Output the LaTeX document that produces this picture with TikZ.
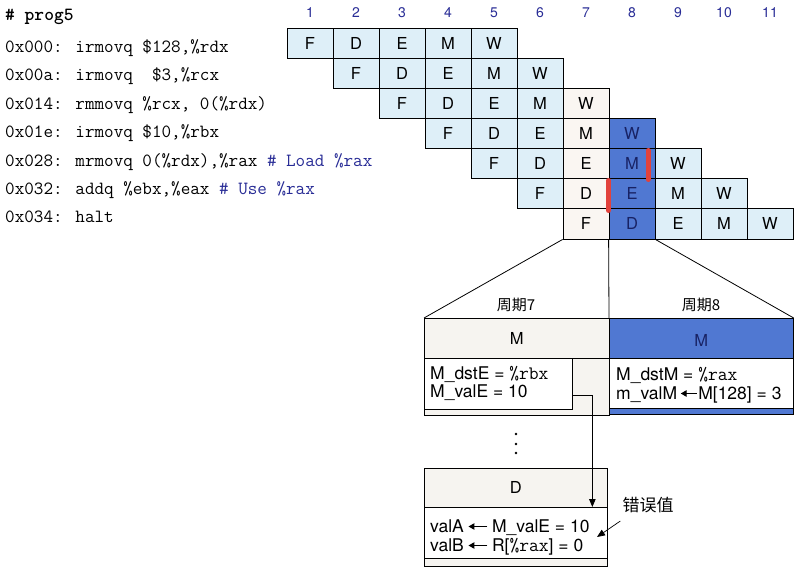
\documentclass[tikz,border=0pt]{standalone}
\usepackage{fontspec}
\setsansfont{TeX Gyre Heros}
\newfontfamily\cjk{Noto Sans CJK SC}
\usetikzlibrary{arrows.meta}
\definecolor{cellblue}{RGB}{222,239,248}
\definecolor{cellwhite}{RGB}{250,246,242}
\definecolor{celldark}{RGB}{80,120,210}
\definecolor{hdrgray}{RGB}{246,244,240}
\definecolor{barred}{RGB}{226,66,60}
\definecolor{numblue}{RGB}{40,44,150}
\definecolor{navy}{RGB}{24,34,100}
\tikzset{
  cell/.style={draw, line width=0.8pt, minimum width=46pt, minimum height=30.15pt, inner sep=0pt,
    font=\sffamily\fontsize{16.5}{16.5}\selectfont},
  colnum/.style={font=\sffamily\fontsize{14}{14}\selectfont, text=numblue, inner sep=0pt},
  code/.style={anchor=base west, inner sep=0pt, font=\ttfamily\fontsize{18.6}{20}\selectfont},
  box/.style={draw, line width=0.7pt, anchor=north west, inner sep=0pt},
  boxtxt/.style={anchor=base west, inner sep=0pt, font=\sffamily\fontsize{17.5}{17.5}\selectfont},
  hdr/.style={inner sep=0pt, font=\sffamily\fontsize{16.5}{16.5}\selectfont},
  cyc/.style={inner sep=0pt, font=\cjk\fontsize{15}{15}\selectfont},
  redbar/.style={barred, line width=5pt, line cap=round},
  arr/.style={line width=0.9pt, -{Triangle[length=8pt,width=6.5pt]}},
  guide/.style={line width=0.8pt}
}
\newcommand{\tcode}[1]{{\ttfamily\fontsize{19}{19}\selectfont #1}}
\newcommand{\larr}[1]{\tikz[x=1pt,y=1pt,baseline=-5.5pt]\draw[line width=1.2pt,-{Triangle[length=6pt,width=6.5pt]}] (#1,0)--(0,0);}
\begin{document}
\begin{tikzpicture}[x=1pt,y=-1pt]
\useasboundingbox[fill=white] (0,0) rectangle (800,577);

% program listing
\node[code, font=\ttfamily\bfseries\fontsize{18.6}{20}\selectfont] (title) at (5,20.5) {\#~prog5};
\node[code] (l1) at (5,52.5) {0x000: irmovq \$128,\%rdx};
\node[code] (l2) at (5,80.9) {0x00a: irmovq\ \ \$3,\%rcx};
\node[code] (l3) at (5,109.3) {0x014: rmmovq \%rcx, 0(\%rdx)};
\node[code] (l4) at (5,137.7) {0x01e: irmovq \$10,\%rbx};
\node[code] (l5) at (5,166.1) {0x028: mrmovq 0(\%rdx),\%rax {\color{numblue}\# Load \%rax}};
\node[code] (l6) at (5,194.5) {0x032: addq \%ebx,\%eax {\color{numblue}\# Use \%rax}};
\node[code] (l7) at (5,222.9) {0x034: halt};

% column numbers
\foreach \k in {1,...,11} {
  \node[colnum] (n\k) at ({287+46*(\k-1)+23},13) {\k};
}

% pipeline cells
\foreach \r in {1,...,7} {
  \foreach \s [count=\i from 0] in {F,D,E,M,W} {
    \pgfmathtruncatemacro\k{\r+\i}
    \ifnum\k=7 \def\cf{cellwhite}\def\tc{black}\else
      \ifnum\k=8 \def\cf{celldark}\def\tc{navy}\else\def\cf{cellblue}\def\tc{black}\fi\fi
    \node[cell, fill=\cf, text=\tc] (c-\r-\k) at ({287+46*(\k-1)+23},{28+30.15*(\r-1)+15.075}) {\s};
  }
}

% red bars
\draw[redbar] (648,150.5) -- (648,179.5);
\draw[redbar] (608.5,180.5) -- (608.5,210.5);

% cycle 7 box
\node[box, fill=hdrgray, minimum width=185pt, minimum height=57pt] (m7b) at (424,358) {};
\node[box, fill=hdrgray, minimum width=185pt, minimum height=40pt] (m7h) at (424,318) {};
\node[box, fill=white, minimum width=148pt, minimum height=51pt] (m7w) at (424,358) {};
\node[hdr] (m7lab) at (m7h.center) {M};
\node[boxtxt] (t71) at (430,379.5) {M\_dstE = \tcode{\%rbx}};
\node[boxtxt] (t72) at (430,397.5) {M\_valE = 10};

% cycle 8 box
\node[box, fill=celldark, minimum width=184pt, minimum height=56pt] (m8b) at (609,358) {};
\node[box, fill=celldark, minimum width=184pt, minimum height=40pt] (m8h) at (609,318) {};
\node[box, fill=white, minimum width=184pt, minimum height=50pt] (m8w) at (609,358) {};
\node[hdr, text=navy] (m8lab) at ([yshift=-2pt]m8h.center) {M};
\node[boxtxt] (t81) at (616,380.5) {M\_dstM = \tcode{\%rax}};
\node[boxtxt] (t82) at (616,399) {m\_valM\hspace{3pt}\larr{16}\hspace{1pt}M[128] = 3};

% cycle labels
\node[cyc] (cy7) at (516,305) {周期7};
\node[cyc] (cy8) at (701,305) {周期8};

% guide lines from grid to boxes
\draw[guide] (c-7-7.south west) -- (m7h.north west);
\draw[guide] (c-7-8.south west) -- (m8h.north west);
\draw[guide] (c-7-8.south east) -- (m8h.north east);

% dots
\fill (516,434) circle (1.4pt);
\fill (516,444) circle (1.4pt);
\fill (516,453) circle (1.4pt);

% D box
\node[box, fill=hdrgray, minimum width=183pt, minimum height=59pt] (db) at (424,507) {};
\node[box, fill=hdrgray, minimum width=183pt, minimum height=39pt] (dh) at (424,468) {};
\node[box, fill=white, minimum width=183pt, minimum height=51pt] (dw) at (424,507) {};
\node[hdr] (dlab) at (dh.center) {D};
\node[boxtxt] (td1) at (430,532) {valA\hspace{4pt}\larr{19}\hspace{4pt}M\_valE = 10};
\node[boxtxt] (td2) at (430,551) {valB\hspace{4pt}\larr{19}\hspace{4pt}R[\tcode{\%rax}] = 0};

% forwarding arrow
\draw[arr] ([yshift=-11.5pt]m7w.east) -| ([xshift=76.5pt]dw.north);

% error label
\node[inner sep=0pt, font=\cjk\fontsize{17}{17}\selectfont] (err) at (648,505) {错误值};
\coordinate (errtip) at (597,537);
\draw[arr, line width=0.7pt] ([xshift=-2pt,yshift=-8pt]err.south west) -- (errtip);
\end{tikzpicture}
\end{document}
